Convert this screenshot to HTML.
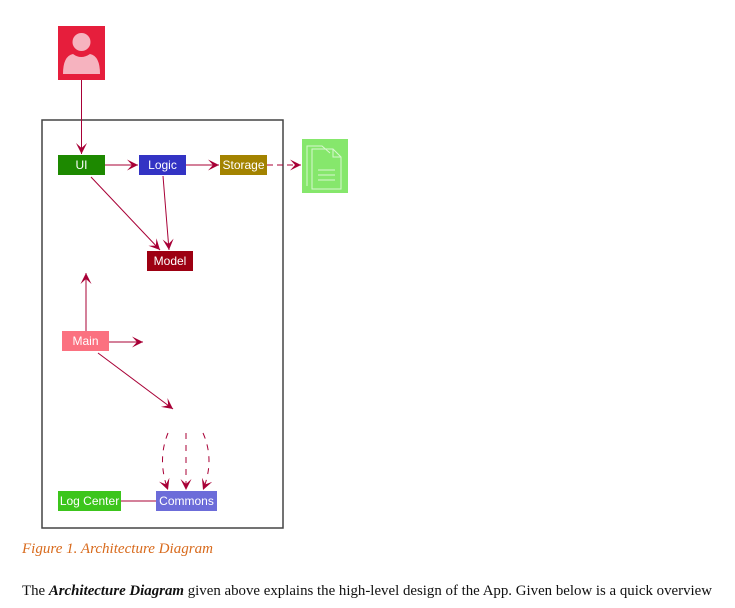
<!DOCTYPE html>
<html><head><meta charset="utf-8">
<style>
html,body{margin:0;padding:0;background:#fff;width:735px;height:608px;overflow:hidden}
svg text{font-family:"Liberation Sans",sans-serif}
</style></head><body>
<svg width="735" height="608" viewBox="0 0 735 608" xmlns="http://www.w3.org/2000/svg">
<defs>
<marker id="a" viewBox="0 0 12 12" refX="11" refY="6" markerWidth="12" markerHeight="12" markerUnits="userSpaceOnUse" orient="auto">
<path d="M0,0.5 L11,6 L0,11.5 L5,6 Z" fill="#a80036"/>
</marker>
</defs>
<!-- person -->
<rect x="58" y="26" width="47" height="54" fill="#e61e3c"/>
<circle cx="81.5" cy="42" r="9" fill="#f6b3bf"/>
<path d="M63,74 Q63,56 73,54 Q81,60 90,54 Q100,56 100,74 Z" fill="#f6b3bf"/>
<!-- frame -->
<rect x="42" y="120" width="241" height="408" fill="none" stroke="#444" stroke-width="1.5"/>
<g stroke="#a80036" stroke-width="1" fill="none">
<line x1="81.5" y1="80" x2="81.5" y2="154" marker-end="url(#a)"/>
<line x1="105" y1="165" x2="138" y2="165" marker-end="url(#a)"/>
<line x1="186" y1="165" x2="219" y2="165" marker-end="url(#a)"/>
<line x1="267" y1="165" x2="301" y2="165" stroke-dasharray="6,4" marker-end="url(#a)"/>
<line x1="91" y1="177" x2="160" y2="250" marker-end="url(#a)"/>
<line x1="163" y1="176" x2="169" y2="250" marker-end="url(#a)"/>
<line x1="86" y1="331" x2="86" y2="273" marker-end="url(#a)"/>
<line x1="109" y1="342" x2="143" y2="342" marker-end="url(#a)"/>
<line x1="98" y1="353" x2="173" y2="409" marker-end="url(#a)"/>
<path d="M168,433 Q157,460 168,490" stroke-dasharray="6,6" marker-end="url(#a)"/>
<line x1="186" y1="433" x2="186" y2="490" stroke-dasharray="6,6" marker-end="url(#a)"/>
<path d="M203,433 Q215,460 203,490" stroke-dasharray="6,6" marker-end="url(#a)"/>
<line x1="121" y1="501" x2="156" y2="501"/>
</g>
<!-- boxes -->
<rect x="58" y="155" width="47" height="20" fill="#1d8900"/>
<text x="81.5" y="169" font-size="12" fill="#fff" text-anchor="middle">UI</text>
<rect x="139" y="155" width="47" height="20" fill="#3333c4"/>
<text x="162.5" y="169" font-size="12" fill="#fff" text-anchor="middle">Logic</text>
<rect x="220" y="155" width="47" height="20" fill="#a38300"/>
<text x="243.5" y="169" font-size="12" fill="#fff" text-anchor="middle">Storage</text>
<rect x="147" y="251" width="46" height="20" fill="#9d0012"/>
<text x="170" y="265" font-size="12" fill="#fff" text-anchor="middle">Model</text>
<rect x="62" y="331" width="47" height="20" fill="#fb7180"/>
<text x="85.5" y="345" font-size="12" fill="#fff" text-anchor="middle">Main</text>
<rect x="58" y="491" width="63" height="20" fill="#3cc51c"/>
<text x="89.5" y="505" font-size="12" fill="#fff" text-anchor="middle">Log Center</text>
<rect x="156" y="491" width="61" height="20" fill="#6c6cd9"/>
<text x="186.5" y="505" font-size="12" fill="#fff" text-anchor="middle">Commons</text>
<!-- file icon -->
<rect x="302" y="139" width="46" height="54" fill="#86e76c"/>
<g fill="none" stroke="#d8f7cf" stroke-width="1">
<path d="M307,186 V146 H322 L330,153"/>
<path d="M312,189 V149 H333 L341,157 V189 Z"/>
<path d="M333,149 V157 H341" />
<line x1="318" y1="170" x2="335" y2="170"/>
<line x1="318" y1="175" x2="335" y2="175"/>
<line x1="318" y1="180" x2="335" y2="180"/>
</g>
<text x="22" y="553" font-style="italic" font-size="14.5" fill="#d86a1c" textLength="191" lengthAdjust="spacingAndGlyphs" style="font-family:'Liberation Serif',serif">Figure 1. Architecture Diagram</text>
<text x="22" y="595" font-size="14.2" fill="#111" textLength="690" lengthAdjust="spacingAndGlyphs" style="font-family:'Liberation Serif',serif">The <tspan font-weight="bold" font-style="italic">Architecture Diagram</tspan> given above explains the high-level design of the App. Given below is a quick overview</text>
</svg>
</body></html>
